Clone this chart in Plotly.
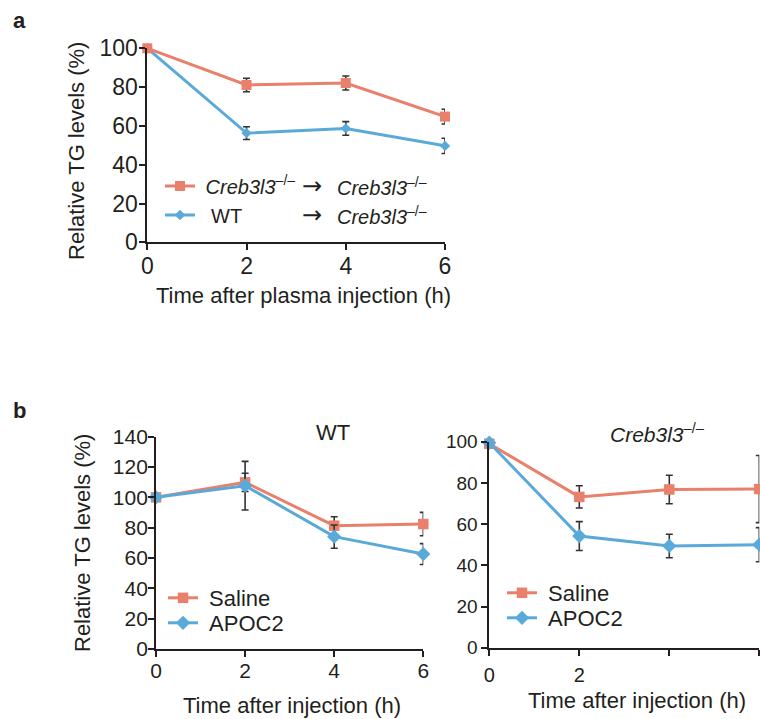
import plotly.graph_objects as go

# ---------------- data ----------------
time_h = [0, 2, 4, 6]

# panel a: plasma transfer into Creb3l3-/- mice
a_ko_to_ko = [100, 81.1, 82.1, 64.8]
a_ko_to_ko_err = [0, 3.5, 3.6, 3.8]
a_wt_to_ko = [100, 56.3, 58.7, 49.7]
a_wt_to_ko_err = [0, 3.3, 3.5, 3.9]

# panel b left: WT mice
b_wt_saline = [100, 109.9, 81.3, 82.4]
b_wt_saline_err = [0, 6.0, 5.9, 7.7]
b_wt_apoc2 = [100, 107.7, 74.1, 62.6]
b_wt_apoc2_err = [0, 16.0, 7.7, 6.9]

# panel b right: Creb3l3-/- mice
b_ko_saline = [99, 73.2, 76.8, 77.0]
b_ko_saline_err = [0, 5.4, 6.9, 16.3]
b_ko_apoc2 = [99.5, 54.2, 49.4, 50.0]
b_ko_apoc2_err = [0, 7.0, 5.7, 8.3]

x_ticks = [0, 2, 4, 6]
x_ticktext_full = ["0", "2", "4", "6"]
x_ticktext_right = ["0", "2", "", ""]
y_ticks_100 = [0, 20, 40, 60, 80, 100]
y_ticks_140 = [0, 20, 40, 60, 80, 100, 120, 140]

RED = "#E8806B"
BLUE = "#5AAAD9"
INK = "#231f20"
ERR = "#333333"
FONT = "Liberation Sans, Arial, Helvetica, sans-serif"
NB = "\u00a0"

W, H = 760, 719
def PX(x):
    return x / W
def PY(y):
    return 1 - y / H

fig = go.Figure()

def add(xax, yax, y, err, color, symbol, size, name, legend):
    fig.add_trace(go.Scatter(
        x=time_h, y=y, xaxis=xax, yaxis=yax, name=name, legend=legend,
        mode="lines+markers", cliponaxis=False, showlegend=True,
        line=dict(color=color, width=3),
        marker=dict(color=color, symbol=symbol, size=size),
        error_y=dict(type="data", array=err, color=ERR, thickness=1.6, width=3.5),
    ))

# panel a (blue drawn first so red sits on top at t=0)
add("x", "y", a_wt_to_ko, a_wt_to_ko_err, BLUE, "diamond", 8, NB * 2 + "WT", "legend2")
add("x", "y", a_ko_to_ko, a_ko_to_ko_err, RED, "square", 10, NB + "<i>Creb3l3</i><sup>\u2013/\u2013</sup>", "legend")
# panel b left
add("x2", "y2", b_wt_saline, b_wt_saline_err, RED, "square", 10.5, NB + "Saline", "legend3")
add("x2", "y2", b_wt_apoc2, b_wt_apoc2_err, BLUE, "diamond", 11, NB + "APOC2", "legend4")
# panel b right
add("x3", "y3", b_ko_saline, b_ko_saline_err, RED, "square", 10.5, NB + "Saline", "legend5")
add("x3", "y3", b_ko_apoc2, b_ko_apoc2_err, BLUE, "diamond", 11, NB + "APOC2", "legend6")

def xaxis(domain, ticktext, size, standoff):
    return dict(domain=domain, range=[0, 6], tickvals=x_ticks, ticktext=ticktext,
                showline=True, linecolor=INK, linewidth=1.8, ticks="outside",
                ticklen=6, tickwidth=1.8, tickcolor=INK, showgrid=False, zeroline=False,
                tickfont=dict(family=FONT, size=size, color=INK), automargin=False,
                ticklabelstandoff=standoff, fixedrange=True)

def yaxis(domain, ticks, top, size, anchor, standoff):
    return dict(domain=domain, range=[0, top], tickvals=ticks, anchor=anchor,
                showline=True, linecolor=INK, linewidth=1.8, ticks="outside",
                ticklen=6, tickwidth=1.8, tickcolor=INK, showgrid=False, zeroline=False,
                tickfont=dict(family=FONT, size=size, color=INK), automargin=False,
                ticklabelstandoff=standoff, fixedrange=True)

def legend(x, y, size):
    return dict(x=PX(x), y=PY(y), xanchor="left", yanchor="middle",
                bgcolor="rgba(0,0,0,0)", borderwidth=0,
                font=dict(family=FONT, size=size, color=INK))

fig.update_layout(
    width=W, height=H, showlegend=True,
    margin=dict(l=0, r=0, t=0, b=0),
    paper_bgcolor="white", plot_bgcolor="white",
    font=dict(family=FONT, color=INK),
    xaxis=dict(**xaxis([PX(147.3), PX(445)], x_ticktext_full, 23, -4), anchor="y"),
    yaxis=yaxis([PY(242.3), PY(48.3)], y_ticks_100, 100, 23, "x", -3),
    xaxis2=dict(**xaxis([PX(156), PX(423.3)], x_ticktext_full, 21, -4), anchor="y2"),
    yaxis2=yaxis([PY(649), PY(436.7)], y_ticks_140, 140, 21, "x2", -4),
    xaxis3=dict(**xaxis([PX(489.3), PX(759.3)], x_ticktext_right, 20, 2), anchor="y3"),
    yaxis3=yaxis([PY(647.7), PY(441.7)], y_ticks_100, 100, 19, "x3", 0),
    legend=legend(160, 186, 20),
    legend2=legend(160, 215, 20),
    legend3=legend(163, 598, 22),
    legend4=legend(163, 623, 22),
    legend5=legend(502, 593, 22),
    legend6=legend(502, 618, 22),
)

def note(text, x, y, size, xanchor="center", bold=False, angle=0, family=FONT):
    fig.add_annotation(text=("<b>%s</b>" % text) if bold else text,
                       x=PX(x), y=PY(y), xref="paper", yref="paper",
                       xanchor=xanchor, yanchor="middle", showarrow=False,
                       textangle=angle, font=dict(family=family, size=size, color=INK))

# panel labels
note("a", 19, 20, 22, bold=True)
note("b", 19, 410, 22, bold=True)

# panel a texts
note("Relative TG levels (%)", 77, 151, 22, angle=-90)
note("Time after plasma injection (h)", 303, 295, 22)
for row_y in (186, 215):
    note("\u2192", 300, row_y, 24, xanchor="left", family="DejaVu Sans")
    note("<i>Creb3l3</i><sup>\u2013/\u2013</sup>", 335, row_y, 20, xanchor="left")

# panel b texts
note("Relative TG levels (%)", 82, 543, 22, angle=-90)
note("Time after injection (h)", 292, 705, 22)
note("WT", 333, 432, 22)
note("<i>Creb3l3</i><sup>\u2013/\u2013</sup>", 657, 433, 21)
note("Time after injection (h)", 637, 700, 22)

fig.write_html("out.html", config={"displayModeBar": False},
               post_script="document.body.style.margin='0';document.body.style.overflow='hidden';")
